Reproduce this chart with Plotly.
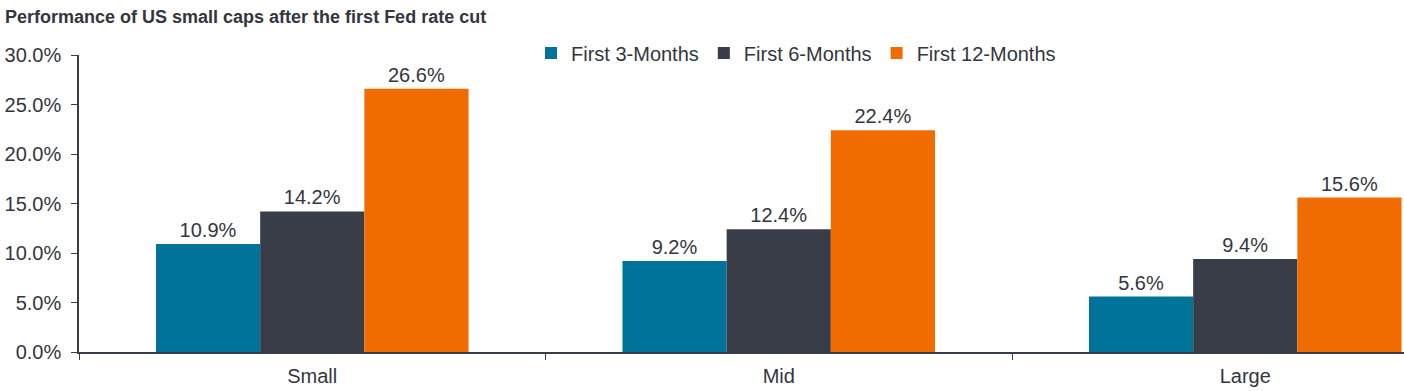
import plotly.graph_objects as go

categories = ["Small", "Mid", "Large"]
series_names = ["First 3-Months", "First 6-Months", "First 12-Months"]
values_3m = [10.9, 9.2, 5.6]
values_6m = [14.2, 12.4, 9.4]
values_12m = [26.6, 22.4, 15.6]
colors = ["#00739A", "#393D47", "#F06C00"]
y_ticks = [0, 5, 10, 15, 20, 25, 30]

FONT = "Liberation Sans, Arial, sans-serif"
TXT = "#333640"
W, H = 1404, 391
L, T, B = 79, 55, 39

fig = go.Figure()
for name, vals, col in zip(series_names, [values_3m, values_6m, values_12m], colors):
    fig.add_trace(go.Bar(
        x=categories, y=vals, name=name, marker_color=col, marker_line_width=0,
        text=[f"{v:.1f}%" for v in vals], textposition="outside",
        textfont=dict(size=20, color=TXT), cliponaxis=False,
    ))

plot_w = W - L
fig.update_layout(
    width=W, height=H,
    margin=dict(l=L, r=0, t=T, b=B, autoexpand=False),
    plot_bgcolor="white", paper_bgcolor="white",
    font=dict(family=FONT, size=20, color=TXT),
    barmode="group", bargap=0.33, bargroupgap=0,
    title=dict(text="<b>Performance of US small caps after the first Fed rate cut</b>",
               x=5 / W, xanchor="left", y=1 - 17 / H, yanchor="middle",
               font=dict(family=FONT, size=18, color=TXT)),
    legend=dict(orientation="h", x=(531 - L) / plot_w, xanchor="left",
                y=1 + 2 / (H - T - B), yanchor="middle",
                font=dict(size=20, color=TXT), bgcolor="rgba(0,0,0,0)",
                itemwidth=30, traceorder="normal"),
    showlegend=True,
)
fig.update_xaxes(
    range=[-0.5, -0.5 + plot_w / 466.5], automargin=False,
    showline=True, linecolor="#393D47", linewidth=1.5,
    ticks="outside", tickson="boundaries", ticklen=6, tickcolor="#393D47",
    ticklabelstandoff=5,
    showgrid=False, tickfont=dict(size=20, color=TXT),
)
fig.update_yaxes(
    range=[0, 30], tickvals=y_ticks, ticktext=[f"{v:.1f}%" for v in y_ticks],
    automargin=False,
    showline=True, linecolor="#393D47", linewidth=1.5,
    ticks="outside", ticklen=6, tickcolor="#393D47",
    ticklabelstandoff=6,
    showgrid=False, zeroline=False, tickfont=dict(size=20, color=TXT),
)

fig.write_html("out.html", config={"displayModeBar": False},
               post_script="document.body.style.margin='0';document.body.style.overflow='hidden';")
